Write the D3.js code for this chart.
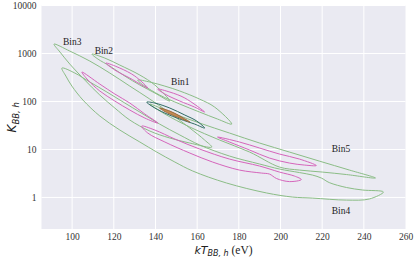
<!DOCTYPE html>
<html>
<head>
<meta charset="utf-8">
<script src="https://cdn.jsdelivr.net/npm/d3@7/dist/d3.min.js"></script>
<style>
  body { margin: 0; background: #fff; }
  svg { display: block; }
</style>
</head>
<body>
<div id="chart"></div>
<script>
// contours: each ring is [kT (eV), K] going along the upper edge, then back along the lower edge
const bin4Outer = [
  [95.1, 497], [101.3, 391], [108.5, 254], [116.7, 157], [125.3, 92.7], [132.5, 60.1],
  [142.0, 33.8], [151.7, 20.0], [161.2, 12.4], [175.5, 7.29], [190.0, 4.97], [199.5, 3.91],
  [209.1, 3.30], [215.3, 2.93], [219.6, 2.54], [223.4, 2.04], [231.7, 1.61], [239.3, 1.43],
  [249.4, 1.30],
  [242.7, 0.93], [231.7, 0.88], [215.3, 0.97], [205.7, 1.02], [193.3, 1.24], [174.1, 2.00],
  [157.9, 3.55], [149.3, 5.47], [140.6, 8.83], [132.5, 14.3], [122.9, 25.4], [113.3, 49.7],
  [105.2, 107], [99.9, 209], [97.0, 338]
];
const bin4Inner = [
  [133.4, 30.7], [139.7, 25.4], [149.3, 16.5], [161.2, 10.2], [175.5, 6.31], [190.0, 4.51],
  [199.5, 3.38], [206.7, 2.79], [210.0, 2.36],
  [204.3, 2.14], [198.1, 2.48], [194.7, 3.07], [190.9, 3.22], [180.3, 3.72], [167.4, 5.47],
  [156.5, 8.41], [144.5, 14.3], [136.3, 22.0]
];
const bin5Outer = [
  [137.3, 88.3], [149.3, 54.7], [161.2, 35.5], [175.5, 22.0], [190.0, 13.6], [204.3, 8.83],
  [218.6, 5.73], [233.1, 3.72], [245.6, 2.54],
  [231.7, 3.00], [220.1, 3.38], [209.1, 3.72], [199.5, 4.30], [185.2, 8.83], [170.8, 15.7],
  [156.5, 29.3], [144.5, 54.7]
];
const bin5Inner = [
  [169.8, 18.1], [180.3, 14.3], [190.0, 10.7], [199.5, 8.02], [209.1, 6.31], [217.2, 4.62],
  [211.5, 4.73], [204.3, 5.21], [194.7, 6.62], [185.2, 9.72], [175.5, 14.3]
];
const bin3Outer = [
  [91.3, 1570], [98.9, 1122], [108.5, 695], [118.1, 391], [127.7, 209], [137.3, 112],
  [146.9, 57.3], [156.5, 27.9], [163.6, 15.7], [167.0, 11.2],
  [156.5, 13.6], [146.9, 17.3], [137.3, 24.2], [127.7, 41.0], [120.5, 72.9], [113.3, 136],
  [106.1, 279], [98.9, 601], [94.2, 1069]
];
const bin3Inner = [
  [104.7, 410], [113.3, 230], [120.5, 143], [127.7, 92.7], [134.9, 54.7], [141.1, 35.5],
  [134.9, 45.1], [127.7, 66.2], [120.5, 102], [113.3, 165], [107.6, 279]
];
const bin2Outer = [
  [109.5, 972], [115.7, 802], [122.9, 573], [132.5, 355], [139.7, 220], [146.9, 102],
  [139.7, 150], [132.5, 220], [125.3, 338], [118.1, 547], [112.4, 764]
];
const bin2Inner = [
  [116.2, 631], [122.9, 497], [130.1, 338], [136.3, 190],
  [127.7, 307], [120.5, 451]
];
const bin1Outer = [
  [131.5, 279], [137.3, 254], [144.5, 209], [151.7, 165], [161.2, 112], [168.4, 76.4],
  [176.6, 33.8],
  [169.8, 43.0], [161.2, 60.1], [151.7, 88.3], [142.0, 136], [134.9, 209]
];
const bin1Inner = [
  [141.1, 181], [146.9, 157], [154.1, 118], [163.6, 60.1],
  [158.8, 76.4], [151.7, 102], [144.5, 143]
];
const jointOuter = [
  [135.8, 97.2], [139.7, 92.7], [146.9, 72.9], [154.1, 52.1], [159.8, 39.1], [163.6, 27.9],
  [158.8, 33.8], [151.7, 43.0], [144.5, 57.3], [138.2, 80.2]
];
const jointInner = [
  [142.0, 72.9], [146.9, 63.1], [151.7, 49.7], [156.5, 37.2],
  [151.7, 45.1], [145.9, 57.3]
];

const xTicks = [100, 120, 140, 160, 180, 200, 220, 240, 260];
const yTicks = [1, 10, 100, 1000, 10000];

const binLabels = ["Bin1", "Bin2", "Bin3", "Bin4", "Bin5"];
const binLabelPos = [[147.5, 219], [110.8, 966], [95.6, 1489], [224.6, 0.449], [224.6, 9.0]];

const width = 415, height = 258;
const margin = { left: 41.5, right: 9.5, top: 5.5, bottom: 29 };

const svg = d3.select("#chart").append("svg")
  .attr("width", width)
  .attr("height", height);

const x = d3.scaleLinear().domain([85.3, 260]).range([margin.left, width - margin.right]);
const y = d3.scaleLog().domain([0.22, 10000]).range([height - margin.bottom, margin.top]);

// background panel
svg.append("rect")
  .attr("x", margin.left)
  .attr("y", margin.top)
  .attr("width", width - margin.left - margin.right)
  .attr("height", height - margin.top - margin.bottom)
  .attr("fill", "#eaeaf2");

// grid
svg.append("g").selectAll("line").data(xTicks.filter(d => d < 260)).join("line")
  .attr("x1", d => x(d)).attr("x2", d => x(d))
  .attr("y1", margin.top).attr("y2", height - margin.bottom)
  .attr("stroke", "#fff").attr("stroke-width", 1);
svg.append("g").selectAll("line").data(yTicks).join("line")
  .attr("x1", margin.left).attr("x2", width - margin.right)
  .attr("y1", d => y(d)).attr("y2", d => y(d))
  .attr("stroke", "#fff").attr("stroke-width", 1);

// axes (labels only, no spines or ticks)
const xAxis = svg.append("g")
  .attr("transform", `translate(0,${height - margin.bottom})`)
  .call(d3.axisBottom(x).tickValues(xTicks).tickSize(0).tickPadding(4.5).tickFormat(d3.format("d")));
const yAxis = svg.append("g")
  .attr("transform", `translate(${margin.left},0)`)
  .call(d3.axisLeft(y).tickValues(yTicks).tickSize(0).tickPadding(5).tickFormat(d3.format("d")));
[xAxis, yAxis].forEach(a => {
  a.select(".domain").remove();
  a.selectAll("text")
    .attr("font-family", "'Liberation Serif', 'DejaVu Serif', serif")
    .attr("font-size", 9.5)
    .attr("fill", "#333");
});

// contours
const line = d3.line()
  .x(d => x(d[0]))
  .y(d => y(d[1]))
  .curve(d3.curveCatmullRomClosed.alpha(0.5));

const green = "#8bbd86", pink = "#d565bb";
const rings = [
  { pts: bin4Outer, color: green },
  { pts: bin5Outer, color: green },
  { pts: bin3Outer, color: green },
  { pts: bin2Outer, color: green },
  { pts: bin1Outer, color: green },
  { pts: bin4Inner, color: pink },
  { pts: bin5Inner, color: pink },
  { pts: bin3Inner, color: pink },
  { pts: bin2Inner, color: pink },
  { pts: bin1Inner, color: pink },
  { pts: jointOuter, color: "#2f6c64" },
  { pts: jointInner, color: "#9a6a3c", fill: "#c48a55" }
];
svg.append("g").selectAll("path").data(rings).join("path")
  .attr("d", d => line(d.pts))
  .attr("fill", d => d.fill || "none")
  .attr("stroke", d => d.color)
  .attr("stroke-width", 1);

// bin labels
svg.append("g").selectAll("text").data(binLabels).join("text")
  .attr("x", (d, i) => x(binLabelPos[i][0]))
  .attr("y", (d, i) => y(binLabelPos[i][1]))
  .attr("font-family", "'Liberation Serif', 'DejaVu Serif', serif")
  .attr("font-size", 9.5)
  .attr("fill", "#222")
  .text(d => d);

// axis titles
const xt = svg.append("text")
  .attr("x", (margin.left + width - margin.right) / 2)
  .attr("y", 253.5)
  .attr("text-anchor", "middle")
  .attr("fill", "#222");
xt.append("tspan").attr("font-family", "'DejaVu Sans', sans-serif").attr("font-style", "italic")
  .attr("font-size", 11).text("kT");
xt.append("tspan").attr("font-family", "'DejaVu Sans', sans-serif").attr("font-style", "italic")
  .attr("font-size", 8).attr("dy", 2.3).text("BB, h");
xt.append("tspan").attr("font-family", "'Liberation Serif', serif")
  .attr("font-size", 11.5).attr("dy", -2.3).text(" (eV)");

const yt = svg.append("text")
  .attr("transform", `translate(16,${(margin.top + height - margin.bottom) / 2}) rotate(-90)`)
  .attr("text-anchor", "middle")
  .attr("fill", "#222");
yt.append("tspan").attr("font-family", "'DejaVu Sans', sans-serif").attr("font-style", "italic")
  .attr("font-size", 12).text("K");
yt.append("tspan").attr("font-family", "'DejaVu Sans', sans-serif").attr("font-style", "italic")
  .attr("font-size", 8.5).attr("dy", 2.5).text("BB, h");
</script>
</body>
</html>
